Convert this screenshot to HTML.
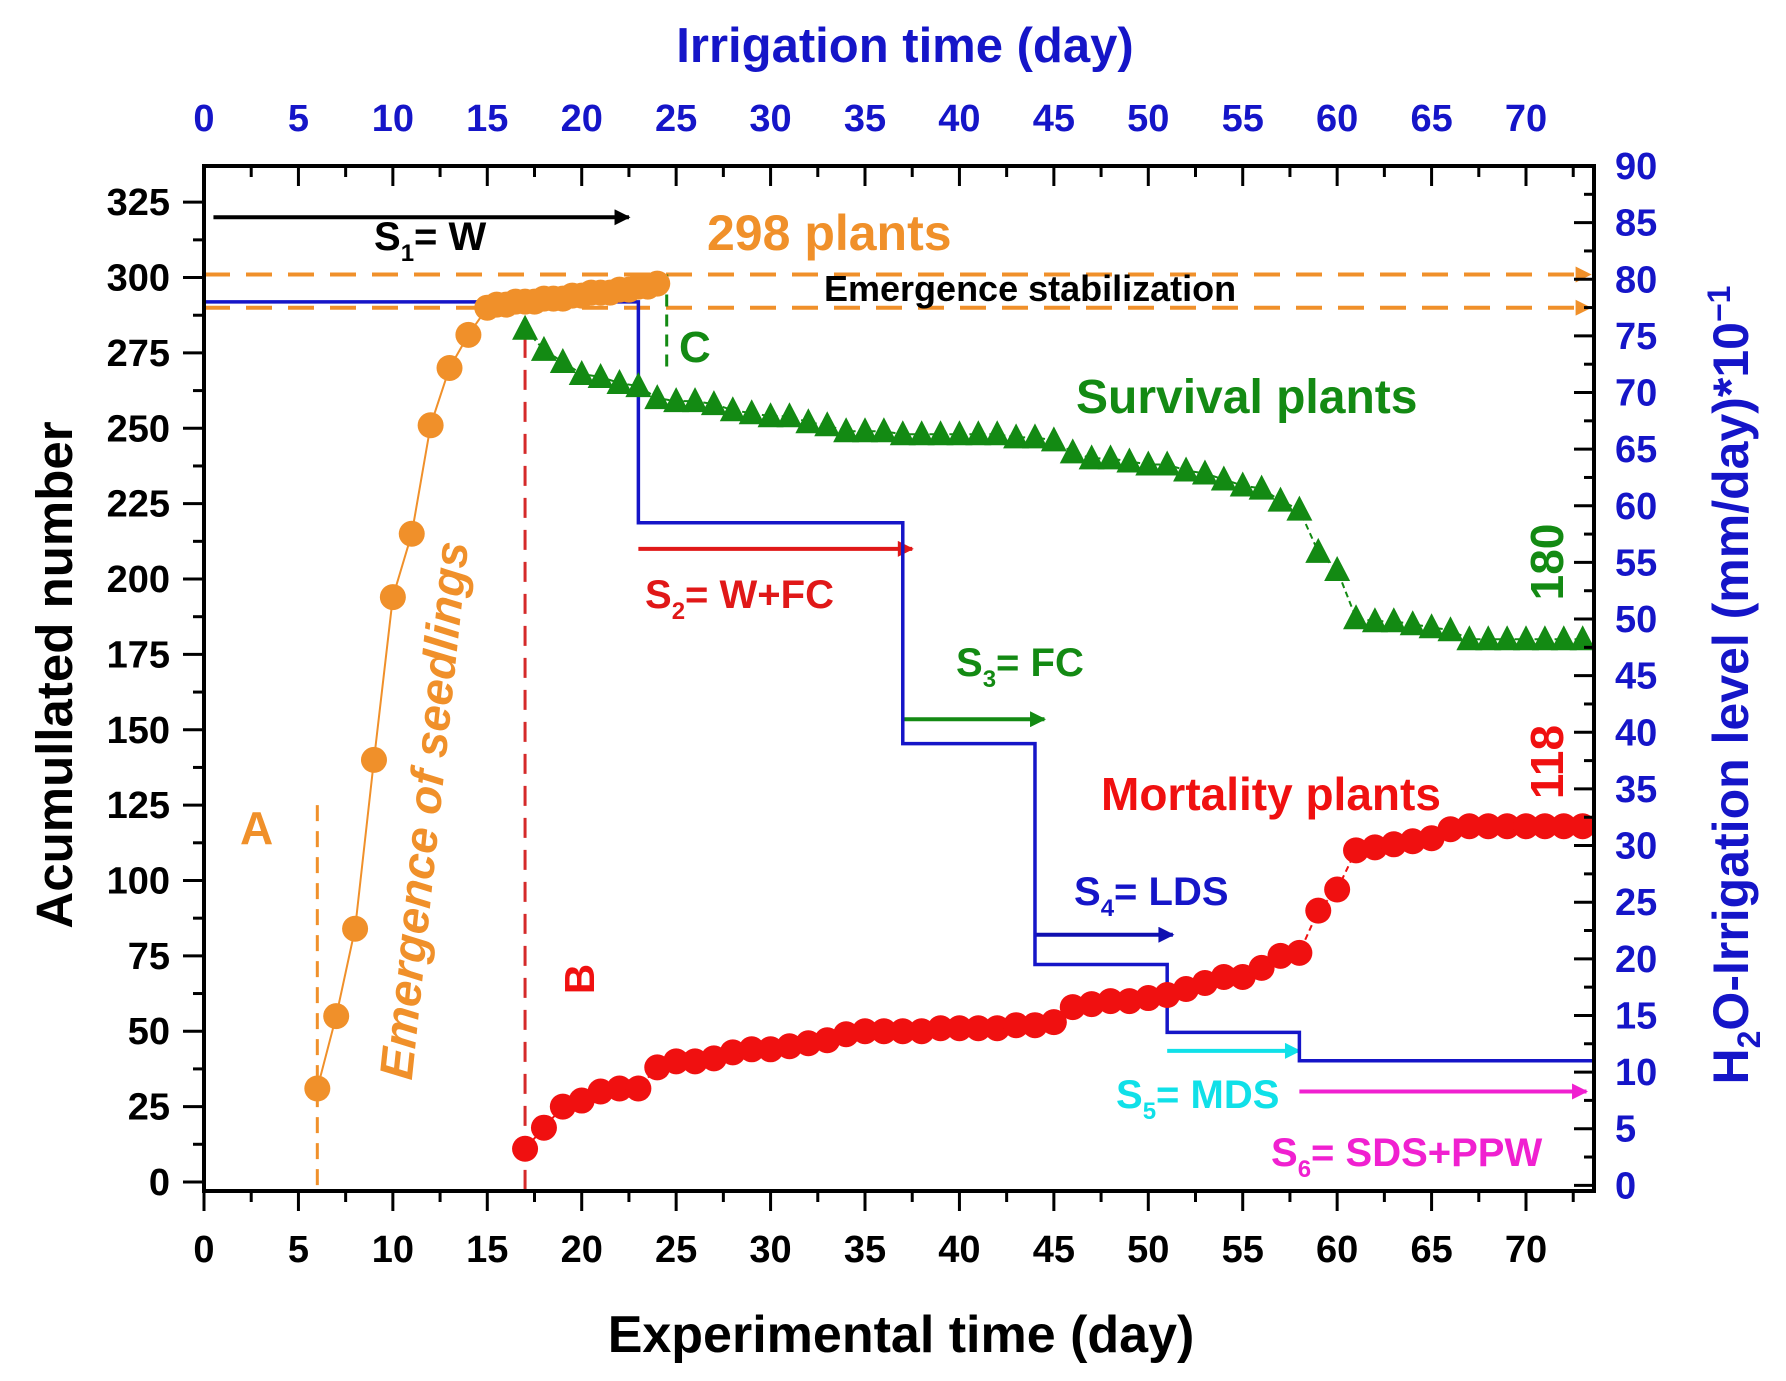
<!DOCTYPE html>
<html><head><meta charset="utf-8"><style>
html,body{margin:0;padding:0;background:#fff}
svg{display:block}
text{font-family:"Liberation Sans",Arial,sans-serif;font-weight:bold}
</style></head><body>
<svg id="chart" width="1786" height="1381" viewBox="0 0 1786 1381" xmlns="http://www.w3.org/2000/svg">
<defs>
<marker id="ah" viewBox="0 0 10 10" refX="9" refY="5" markerWidth="5" markerHeight="4" orient="auto" markerUnits="strokeWidth"><path d="M0,0 L10,5 L0,10 z" fill="context-stroke"/></marker>
</defs>
<g id="plot"></g>
</svg>
<script>
// ---- data ----
const xTicks = [0,5,10,15,20,25,30,35,40,45,50,55,60,65,70];
const yLeftTicks = [0,25,50,75,100,125,150,175,200,225,250,275,300,325];
const yRightTicks = [0,5,10,15,20,25,30,35,40,45,50,55,60,65,70,75,80,85,90];
const emergDays = [6,7,8,9,10,11,12,13,14,15,15.5,16,16.5,17,17.5,18,18.5,19,19.5,20,20.5,21,21.5,22,22.5,23,23.5,24];
const emergVals = [31,55,84,140,194,215,251,270,281,290,291,291,292,292,292,293,293,293,294,294,295,295,295,296,296,297,297,298];
const survDays = [17,18,19,20,21,22,23,24,25,26,27,28,29,30,31,32,33,34,35,36,37,38,39,40,41,42,43,44,45,46,47,48,49,50,51,52,53,54,55,56,57,58,59,60,61,62,63,64,65,66,67,68,69,70,71,72,73];
const survVals = [283,276,272,268,267,265,264,260,259,259,258,256,255,254,254,252,251,249,249,249,248,248,248,248,248,248,247,247,246,242,240,240,239,238,238,236,235,233,231,230,226,223,209,203,187,186,186,185,184,183,180,180,180,180,180,180,180];
const mortDays = [17,18,19,20,21,22,23,24,25,26,27,28,29,30,31,32,33,34,35,36,37,38,39,40,41,42,43,44,45,46,47,48,49,50,51,52,53,54,55,56,57,58,59,60,61,62,63,64,65,66,67,68,69,70,71,72,73];
const mortVals = [11,18,25,27,30,31,31,38,40,40,41,43,44,44,45,46,47,49,50,50,50,50,51,51,51,51,52,52,53,58,59,60,60,61,62,64,66,68,68,71,75,76,90,97,110,111,112,113,114,117,118,118,118,118,118,118,118];
const irrStart = [0,23,37,44,51,58];
const irrEnd = [23,37,44,51,58,73.5];
const irrLevel = [78,58.5,39,19.5,13.5,11];

// ---- scales ----
const L=204,R=1594,T=166,B=1191;
const XMAX=73.6, YMIN=-3, YMAX=337, RMIN=-0.5, RMAX=90;
const sx=v=>L+(v)/XMAX*(R-L);
const sy=v=>B-(v-YMIN)/(YMAX-YMIN)*(B-T);
const sr=v=>B-(v-RMIN)/(RMAX-RMIN)*(B-T);
const NS="http://www.w3.org/2000/svg";
const g=document.getElementById('plot');
function mk(tag,attrs,parent){const e=document.createElementNS(NS,tag);for(const k in attrs)e.setAttribute(k,attrs[k]);(parent||g).appendChild(e);return e;}
function txt(s,x,y,fill,size,anchor,extra){const t=mk('text',Object.assign({x:x,y:y,fill:fill,'font-size':size,'text-anchor':anchor||'start'},extra||{}));t.innerHTML=s;return t;}

let e;
e=mk('line',{x1:sx(0),x2:R-4,y1:sy(301),y2:sy(301),stroke:'#f0902a','stroke-width':4,'stroke-dasharray':'26 16','marker-end':'url(#ah)'});

e=mk('line',{x1:sx(0),x2:R-4,y1:sy(290),y2:sy(290),stroke:'#f0902a','stroke-width':4,'stroke-dasharray':'26 16','marker-end':'url(#ah)'});

e=mk('line',{x1:sx(6),x2:sx(6),y1:sy(125),y2:B,stroke:'#f0902a','stroke-width':3,'stroke-dasharray':'16 10'});

e=mk('line',{x1:sx(17),x2:sx(17),y1:sy(280),y2:B,stroke:'#d52a2a','stroke-width':3,'stroke-dasharray':'20 12'});

e=mk('line',{x1:sx(24.5),x2:sx(24.5),y1:sy(301),y2:sy(270),stroke:'#138a13','stroke-width':3,'stroke-dasharray':'12 8'});


const arrows=[[0.5,22.5,320,'#000','s1-arrow'],[23,37.5,210,'#e01818','s2-arrow'],[37,44.5,153.5,'#138a13','s3-arrow'],[44,51.3,82,'#1010b0','s4-arrow'],[51,58,43.5,'#10e0e8','s5-arrow'],[58,73.2,30,'#f020d0','s6-arrow']];
arrows.forEach(a=>{const l=mk('line',{x1:sx(a[0]),x2:sx(a[1]),y1:sy(a[2]),y2:sy(a[2]),stroke:a[3],'stroke-width':4,'marker-end':'url(#ah)'});

});

let d='';
irrStart.forEach((s,i)=>{d+=(i===0?'M':'L')+sx(s)+','+sr(irrLevel[i])+' L'+sx(irrEnd[i])+','+sr(irrLevel[i])+' ';});
e=mk('path',{d:d,fill:'none',stroke:'#1515c8','stroke-width':3.5});


e=mk('polyline',{points:emergDays.map((v,i)=>sx(v)+','+sy(emergVals[i])).join(' '),fill:'none',stroke:'#f0902a','stroke-width':2});

emergDays.forEach((v,i)=>{const c=mk('circle',{cx:sx(v),cy:sy(emergVals[i]),r:13,fill:'#f0902a'});

});

e=mk('polyline',{points:survDays.map((v,i)=>sx(v)+','+sy(survVals[i])).join(' '),fill:'none',stroke:'#138a13','stroke-width':2,'stroke-dasharray':'6 4'});

survDays.forEach((v,i)=>{const x=sx(v),y=sy(survVals[i]);const p=mk('polygon',{points:(x-13)+','+(y+11)+' '+(x+13)+','+(y+11)+' '+x+','+(y-14),fill:'#138a13'});

});

e=mk('polyline',{points:mortDays.map((v,i)=>sx(v)+','+sy(mortVals[i])).join(' '),fill:'none',stroke:'#f01010','stroke-width':2,'stroke-dasharray':'6 4'});

mortDays.forEach((v,i)=>{const c=mk('circle',{cx:sx(v),cy:sy(mortVals[i]),r:13,fill:'#f01010'});

});

e=mk('rect',{x:L,y:T,width:R-L,height:B-T,fill:'none',stroke:'#000','stroke-width':4});


for(let v=0;v<=73;v+=2.5){const maj=(v%5===0);const x=sx(v);const len=maj?20:11;
const t1=mk('line',{x1:x,x2:x,y1:B,y2:B+len,stroke:'#000','stroke-width':3});


const t2=mk('line',{x1:x,x2:x,y1:T,y2:T+len,stroke:'#000','stroke-width':3});

}
xTicks.forEach(v=>{const a=txt(String(v),sx(v),1262,'#000',38,'middle');


const b=txt(String(v),sx(v),131,'#1515c8',38,'middle');

});

for(let v=0;v<=335;v+=12.5){const maj=(v%25===0);const y=sy(v);
const t=mk('line',{x1:L-(maj?21:11),x2:L,y1:y,y2:y,stroke:'#000','stroke-width':3});

}
yLeftTicks.forEach(v=>{const a=txt(String(v),170,sy(v)+13,'#000',38,'end');

});

for(let v=0;v<=90;v+=2.5){const maj=(v%5===0);const y=sr(v);
const t=mk('line',{x1:R-(maj?20:10),x2:R,y1:y,y2:y,stroke:'#000','stroke-width':3});

}
yRightTicks.forEach(v=>{const a=txt(String(v),1615,sr(v)+13,'#1515c8',38,'start');

});

e=txt('Irrigation time (day)',905,62,'#1515c8',49,'middle');
e=txt('Experimental time (day)',901,1352,'#000',52,'middle');
e=txt('Acumullated number',0,0,'#000',51,'middle',{transform:'translate(72,675) rotate(-90)'});
e=txt('H<tspan font-size="32" dy="12">2</tspan><tspan dy="-12">O-Irrigation level (mm/day)*10</tspan><tspan font-size="32" dy="-18">−1</tspan>',0,0,'#1515c8',50,'middle',{transform:'translate(1748,685) rotate(-90)'});

const S=(n,rest)=>'S<tspan font-size="24" dy="11">'+n+'</tspan><tspan dy="-11">'+rest+'</tspan>';
e=txt(S(1,'= W'),374,250,'#000',40);
e=txt('298 plants',707,250,'#f0902a',50);
e=txt('Emergence stabilization',824,301,'#000',36);
e=txt('C',679,362,'#138a13',44);
e=txt('Survival plants',1076,413,'#138a13',48);
e=txt('180',0,0,'#138a13',46,'middle',{transform:'translate(1563,562) rotate(-90)'});
e=txt(S(2,'= W+FC'),645,608,'#e01818',40);
e=txt(S(3,'= FC'),956,676,'#138a13',40);
e=txt('118',0,0,'#f01010',46,'middle',{transform:'translate(1563,762) rotate(-90)'});
e=txt('Mortality plants',1101,810,'#f01010',46);
e=txt(S(4,'= LDS'),1074,905,'#1515c8',40);
e=txt(S(5,'= MDS'),1116,1108,'#10e0e8',40);
e=txt(S(6,'= SDS+PPW'),1271,1166,'#f020d0',40);
e=txt('A',240,844,'#f0902a',46);
e=txt('B',0,0,'#f01010',42,'middle',{transform:'translate(594,979) rotate(-90)'});
e=txt('Emergence of seedlings',0,0,'#f0902a',47,'middle',{transform:'translate(440,812) rotate(-84)','font-style':'italic'});
</script>
</body></html>
